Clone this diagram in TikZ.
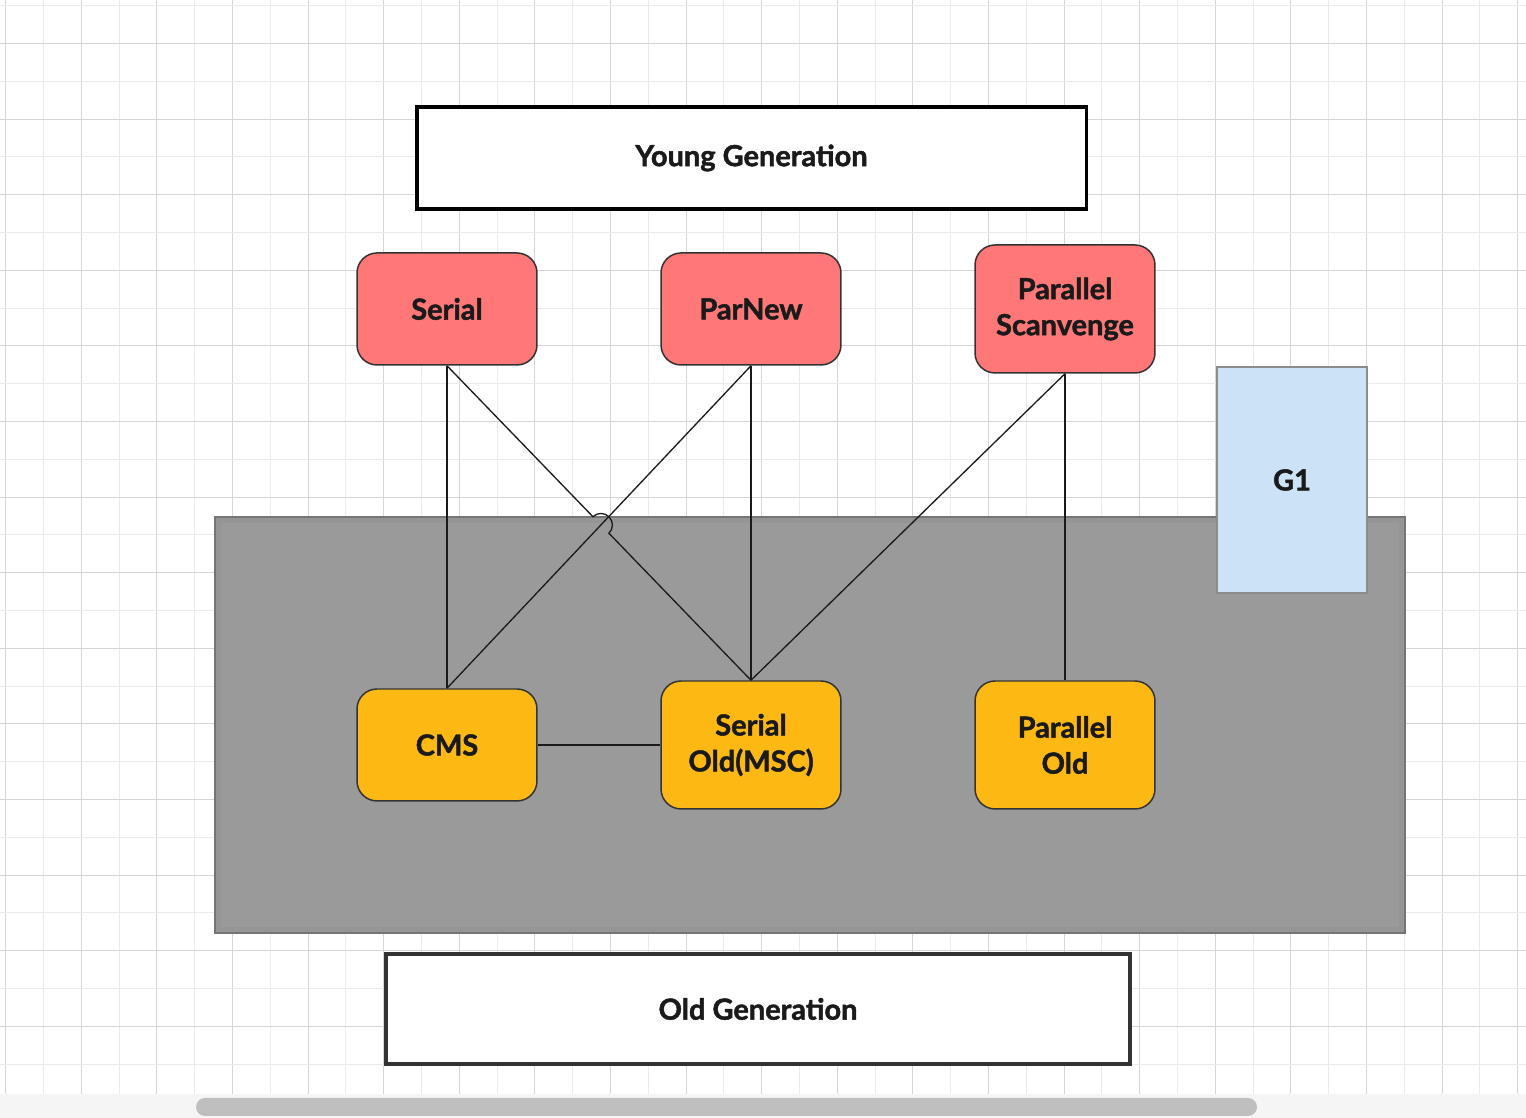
\documentclass[tikz,border=0pt]{standalone}
\usepackage{fontspec}
\setmainfont{Lato}[BoldFeatures={FakeBold=1.6}]
\usetikzlibrary{calc}
\definecolor{gridmajor}{HTML}{D6D6D6}
\definecolor{gridminor}{HTML}{EBEBEB}
\definecolor{youngred}{HTML}{FF7777}
\definecolor{oldorange}{HTML}{FDB813}
\definecolor{gonblue}{HTML}{CCE2F7}
\definecolor{areagray}{HTML}{9A9A9A}
\definecolor{inktext}{HTML}{1A1A1A}
\begin{document}
\begin{tikzpicture}[x=0.02cm, y=0.02cm, line width=0.75pt,
		font=\fontsize{16.5}{20.5}\selectfont\bfseries, text=inktext,
		genbox/.style={draw=#1, line width=2.2pt, fill=white, minimum width=13.4cm, minimum height=2.05cm},
		gcbox/.style={draw=black!80, line width=0.85pt, fill=#1, rounded corners=0.4cm,
			minimum width=3.6cm, minimum height=2.24cm, align=center, inner sep=2pt},
		link/.style={draw=inktext, line width=0.75pt}]
		\useasboundingbox (0,0) rectangle (1526,1118);
		
		% grid
		\fill[black!4] (0,0) rectangle (1526,24);
		\foreach \i in {0,...,40} {
			\ifodd\i \def\gridcol{gridminor}\else \def\gridcol{gridmajor}\fi
			\draw[\gridcol, line width=0.6pt] ({5.7+37.8*\i},24) -- ({5.7+37.8*\i},1118);
		}
		\foreach \j in {0,...,28} {
			\ifodd\j \def\gridcol{gridmajor}\else \def\gridcol{gridminor}\fi
			\draw[\gridcol, line width=0.6pt] (0,{1112.3-37.8*\j}) -- (1526,{1112.3-37.8*\j});
		}
		\fill[black!25, rounded corners=0.18cm] (196,2) rectangle (1257,20);
		
		% old area
		\node[draw=black!54, fill=areagray, line width=0.85pt, minimum width=23.8cm, minimum height=8.32cm] (oldarea) at (810,393) {};
		\draw[black!45, line width=3pt, opacity=0.35] ($(oldarea.south west)+(4,4)$) rectangle ($(oldarea.north east)-(4,4)$);
		\node[draw=black!45, fill=gonblue, line width=0.85pt, minimum width=3cm, minimum height=4.52cm] (gone) at (1292,638) {G1};
		
		% top
		\node[genbox=black] (young) at (751.5,960) {Young Generation};
		\node[gcbox=youngred] (serial) at (447,809) {Serial};
		\node[gcbox=youngred] (parnew) at (751,809) {ParNew};
		\node[gcbox=youngred, minimum height=2.56cm] (scav) at (1065,809) {Parallel\\Scanvenge};
		
		% bottom
		\node[gcbox=oldorange] (cms) at (447,373) {CMS};
		\node[gcbox=oldorange, minimum height=2.56cm] (serialold) at (751,373) {Serial\\Old(MSC)};
		\node[gcbox=oldorange, minimum height=2.56cm] (parold) at (1065,373) {Parallel\\Old};
		\node[genbox=black!80, minimum width=14.88cm, minimum height=2.2cm] (old) at (758,109) {Old Generation};
		
		% links
		\draw[link] (serial.south) -- (cms.north);
		\draw[link] (serial.south) -- ($(serial.south)!0.480!(serialold.north)$) arc[start angle=134, end angle=-46, radius=11.5] -- (serialold.north);
		\draw[link] (parnew.south) -- (cms.north);
		\draw[link] (parnew.south) -- (serialold.north);
		\draw[link] (scav.south) -- (serialold.north);
		\draw[link] (scav.south) -- (parold.north);
		\draw[link] (cms.east) -- (serialold.west);
	\end{tikzpicture}
\end{document}
